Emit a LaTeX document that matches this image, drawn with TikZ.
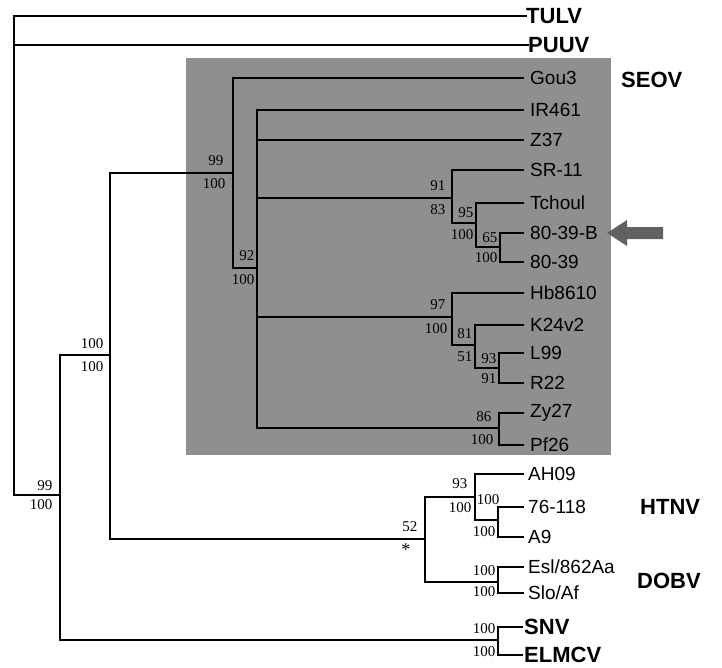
\documentclass[tikz,border=0pt]{standalone}
\usepackage{fontspec}
\setmainfont{Liberation Serif}
\newfontfamily\arialf{Liberation Sans}
\usetikzlibrary{calc}
\definecolor{boxgray}{gray}{0.56}
\definecolor{arrowgray}{gray}{0.38}
\tikzset{
  edge/.style={line width=1.7pt, line cap=rect},
  leaf/.style={anchor=west, inner sep=0pt, outer sep=0pt, text depth=0pt},
  leaftext/.style={inner sep=0pt, anchor=west, font=\arialf\fontsize{19}{19}\selectfont},
  group/.style={anchor=west, inner sep=0pt, font=\arialf\bfseries\fontsize{22}{22}\selectfont},
  bsup/.style={anchor=south east, inner sep=0.5pt, font=\fontsize{15}{15}\selectfont},
  bsdn/.style={anchor=north east, inner sep=0.5pt, font=\fontsize{15}{15}\selectfont},
}
\begin{document}
\begin{tikzpicture}[x=1pt,y=-1pt]
\useasboundingbox (0,0) rectangle (722,667);
% SEOV shaded box
\fill[boxgray] (186,58) rectangle (611,455);

% internal nodes
\coordinate (R) at (14,255);
\coordinate (N60) at (60,495);
\coordinate (N110) at (110,355);
\coordinate (A) at (233,173);
\coordinate (B) at (257,268);
\coordinate (S) at (452,198);
\coordinate (C) at (476,223);
\coordinate (D) at (500,247);
\coordinate (E) at (452,317);
\coordinate (F) at (475,345);
\coordinate (G) at (499,368);
\coordinate (H) at (499,428);
\coordinate (I) at (425,539);
\coordinate (J) at (475,497);
\coordinate (K) at (498,520);
\coordinate (L) at (498,582);
\coordinate (M) at (498,640);

% leaves (line ends) and their labels
\node[group] (tulv) at (526,16) {TULV};
\node[group] (puuv) at (528,45) {PUUV};
\node[leaftext] (gou3) at (530,78) {Gou3};
\node[leaftext] (ir461) at (530,110) {IR461};
\node[leaftext] (z37) at (530,140) {Z37};
\node[leaftext] (sr11) at (530,170) {SR-11};
\node[leaftext] (tchoul) at (530,203) {Tchoul};
\node[leaftext] (b8039) at (530,233) {80-39-B};
\node[leaftext] (a8039) at (530,262) {80-39};
\node[leaftext] (hb) at (530,293) {Hb8610};
\node[leaftext] (k24) at (530,325) {K24v2};
\node[leaftext] (l99) at (530,353) {L99};
\node[leaftext] (r22) at (530,383) {R22};
\node[leaftext] (zy27) at (530,413) {Zy27};
\node[leaftext] (pf26) at (530,445) {Pf26};
\node[leaftext] (ah09) at (528,474) {AH09};
\node[leaftext] (t118) at (528,507) {76-118};
\node[leaftext] (a9) at (528,537) {A9};
\node[leaftext] (esl) at (528,567) {Esl/862Aa};
\node[leaftext] (slo) at (528,593) {Slo/Af};
\node[group] (snv) at (524,627) {SNV};
\node[group] (elm) at (524,655) {ELMCV};

% group labels
\node[group] (seov) at (621,80) {SEOV};
\node[group] (htnv) at (640,507) {HTNV};
\node[group] (dobv) at (637,581) {DOBV};

% edges
\draw[edge] (R) |- (tulv.west);
\draw[edge] (R) |- (puuv.west);
\draw[edge] (R) |- (N60);
\draw[edge] (N60) |- (N110);
\draw[edge] (N60) |- (M);
\draw[edge] (N110) |- (A);
\draw[edge] (N110) |- (I);
\draw[edge] (A) |- ([xshift=-7pt]gou3.west);
\draw[edge] (A) |- (B);
\draw[edge] (B) |- ([xshift=-7pt]ir461.west);
\draw[edge] (B) |- ([xshift=-7pt]z37.west);
\draw[edge] (B) |- (S);
\draw[edge] (B) |- (E);
\draw[edge] (B) |- (H);
\draw[edge] (S) |- ([xshift=-7pt]sr11.west);
\draw[edge] (S) |- (C);
\draw[edge] (C) |- ([xshift=-7pt]tchoul.west);
\draw[edge] (C) |- (D);
\draw[edge] (D) |- ([xshift=-7pt]b8039.west);
\draw[edge] (D) |- ([xshift=-7pt]a8039.west);
\draw[edge] (E) |- ([xshift=-7pt]hb.west);
\draw[edge] (E) |- (F);
\draw[edge] (F) |- ([xshift=-7pt]k24.west);
\draw[edge] (F) |- (G);
\draw[edge] (G) |- ([xshift=-7pt]l99.west);
\draw[edge] (G) |- ([xshift=-7pt]r22.west);
\draw[edge] (H) |- ([xshift=-7pt]zy27.west);
\draw[edge] (H) |- ([xshift=-7pt]pf26.west);
\draw[edge] (I) |- (J);
\draw[edge] (I) |- (L);
\draw[edge] (J) |- ([xshift=-5pt]ah09.west);
\draw[edge] (J) |- (K);
\draw[edge] (K) |- ([xshift=-5pt]t118.west);
\draw[edge] (K) |- ([xshift=-5pt]a9.west);
\draw[edge] (L) |- ([xshift=-5pt]esl.west);
\draw[edge] (L) |- ([xshift=-5pt]slo.west);
\draw[edge] (M) |- ([xshift=-2pt]snv.west);
\draw[edge] (M) |- ([xshift=-2pt]elm.west);

% support values
\node[bsup] (sN60a) at (53,491) {99};
\node[bsdn] (sN60b) at (53,499) {100};
\node[bsup] (sN110a) at (104,349) {100};
\node[bsdn] (sN110b) at (104,361) {100};
\node[bsup] (sAa) at (224,166) {99};
\node[bsdn] (sAb) at (226,178) {100};
\node[bsup] (sBa) at (255,261) {92};
\node[bsdn] (sBb) at (255,274) {100};
\node[bsup] (sSa) at (446,191) {91};
\node[bsdn] (sSb) at (446,204) {83};
\node[bsup] (sCa) at (474,218) {95};
\node[bsdn] (sCb) at (474,229) {100};
\node[bsup] (sDa) at (498,243) {65};
\node[bsdn] (sDb) at (498,252) {100};
\node[bsup] (sEa) at (446,310) {97};
\node[bsdn] (sEb) at (448,323) {100};
\node[bsup] (sFa) at (473,339) {81};
\node[bsdn] (sFb) at (473,351) {51};
\node[bsup] (sGa) at (497,364) {93};
\node[bsdn] (sGb) at (497,373) {91};
\node[bsup] (sHa) at (492,422) {86};
\node[bsdn] (sHb) at (494,434) {100};
\node[bsup] (sIa) at (418,532) {52};
\node[bsdn, font=\fontsize{18}{18}\selectfont] (sIb) at (411,543) {*};
\node[bsup] (sJa) at (468,489) {93};
\node[bsdn] (sJb) at (472,502) {100};
\node[bsup] (sKa) at (500,505) {100};
\node[bsdn] (sKb) at (496,526) {100};
\node[bsup] (sLa) at (496,576) {100};
\node[bsdn] (sLb) at (496,586) {100};
\node[bsup] (sMa) at (496,634) {100};
\node[bsdn] (sMb) at (496,646) {100};

% arrow pointing at 80-39-B
\fill[arrowgray] (607,233) -- (627,220) -- (627,227) -- (663,227) -- (663,239) -- (627,239) -- (627,246) -- cycle;
\end{tikzpicture}
\end{document}
